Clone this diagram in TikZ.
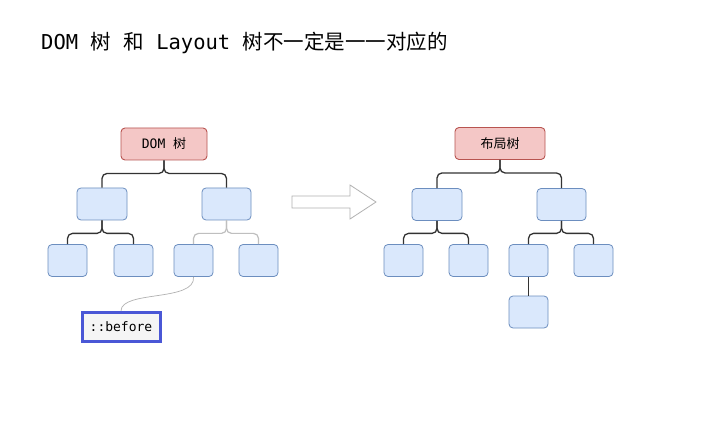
\documentclass[tikz,border=0pt]{standalone}
\usepackage{fontspec}
\setmainfont{DejaVu Sans Mono}
\newfontfamily\cjk{Noto Sans CJK SC}
\begin{document}
\begin{tikzpicture}[x=1pt,y=-1pt,
  rootbox/.style={draw=rootborder,fill=rootfill,rounded corners=4pt,line width=0.9pt,minimum width=#1,minimum height=32pt,inner sep=0pt,font=\fontsize{13}{15}\selectfont},
  leaf/.style={draw=leafborder,fill=leaffill,rounded corners=4pt,line width=0.8pt,minimum width=#1,minimum height=32pt,inner sep=0pt},
  conn/.style={draw=black!80,line width=1.3pt,rounded corners=5pt},
  fadeconn/.style={draw=black!25,line width=1.2pt,rounded corners=5pt},
  beforebox/.style={draw=beforeborder,fill=black!4,line width=3pt,minimum width=78pt,minimum height=29pt,inner sep=0pt,font=\fontsize{13}{15}\selectfont}
]
\definecolor{rootfill}{HTML}{F4C7C6}
\definecolor{rootborder}{HTML}{B85450}
\definecolor{leaffill}{HTML}{DAE8FC}
\definecolor{leafborder}{HTML}{6C8EBF}
\definecolor{beforeborder}{HTML}{4A57D6}
\useasboundingbox (0,0) rectangle (714,438);
\fill[white] (0,0) rectangle (714,438);

% title
\node[anchor=base west,inner sep=0pt,font=\fontsize{20.5}{24}\selectfont] (title) at (41,50)
  {DOM {\cjk 树} {\cjk 和} Layout {\cjk 树不一定是一一对应的}};

% DOM tree
\node[rootbox=86pt] (dr) at (164,144) {DOM {\cjk 树}};
\node[leaf=50pt] (da) at (102,204) {};
\node[leaf=49pt] (db) at (226.5,204) {};
\node[leaf=39pt] (da1) at (67.5,260.5) {};
\node[leaf=39pt] (da2) at (133.5,260.5) {};
\node[leaf=39pt] (db1) at (193.5,260.5) {};
\node[leaf=39pt] (db2) at (258.5,260.5) {};
\draw[conn] (dr.south) -- ++(0,13) -| (da.north);
\draw[conn] (dr.south) -- ++(0,13) -| (db.north);
\draw[conn] (da.south) -- ++(0,13) -| (da1.north);
\draw[conn] (da.south) -- ++(0,13) -| (da2.north);
\draw[fadeconn] (db.south) -- ++(0,13) -| (db1.north);
\draw[fadeconn] (db.south) -- ++(0,13) -| (db2.north);

% ::before
\node[beforebox] (bf) at (121,327) {::before};
\draw[black!30,line width=0.7pt] (bf.north) .. controls (121,290) and (196,302) .. (db1.south);

% arrow
\draw[black!30,fill=white,line width=0.8pt] (292,196) -- (350,196) -- (350,185) -- (376,202) -- (350,219) -- (350,208) -- (292,208) -- cycle;

% Layout tree
\node[rootbox=90pt] (lr) at (500,143.5) {\cjk 布局树};
\node[leaf=50pt] (la) at (437,204.5) {};
\node[leaf=49pt] (lb) at (561.5,204.5) {};
\node[leaf=39pt] (la1) at (403.5,260.5) {};
\node[leaf=39pt] (la2) at (468.5,260.5) {};
\node[leaf=39pt] (lb1) at (528.5,260.5) {};
\node[leaf=39pt] (lb2) at (593.5,260.5) {};
\node[leaf=39pt] (lc) at (528.5,312) {};
\draw[conn] (lr.south) -- ++(0,13) -| (la.north);
\draw[conn] (lr.south) -- ++(0,13) -| (lb.north);
\draw[conn] (la.south) -- ++(0,12.5) -| (la1.north);
\draw[conn] (la.south) -- ++(0,12.5) -| (la2.north);
\draw[conn] (lb.south) -- ++(0,12.5) -| (lb1.north);
\draw[conn] (lb.south) -- ++(0,12.5) -| (lb2.north);
\draw[conn] (lb1.south) -- (lc.north);
\end{tikzpicture}
\end{document}
